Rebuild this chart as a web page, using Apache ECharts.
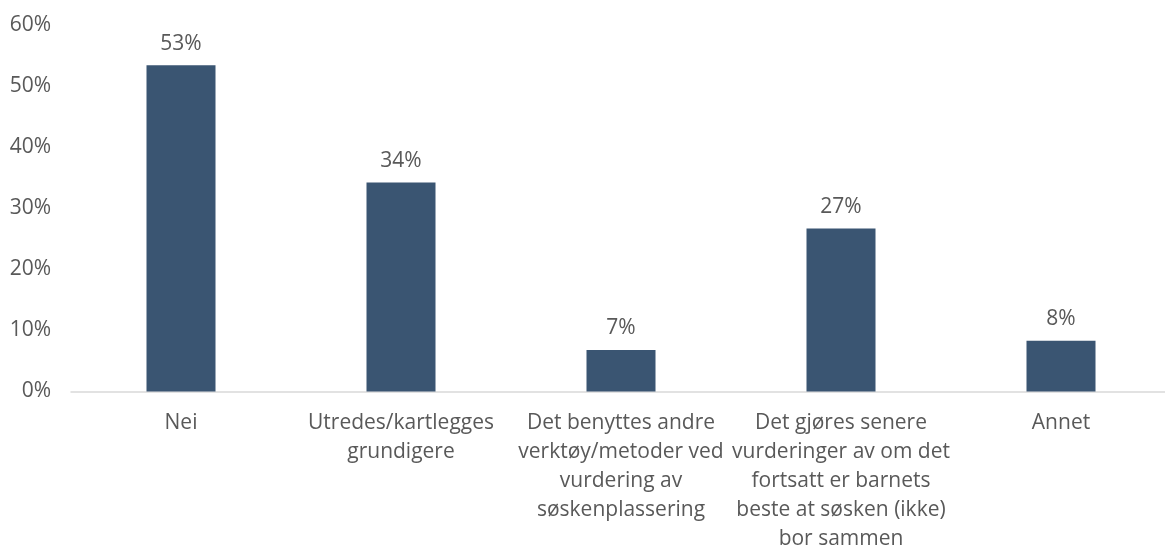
<!DOCTYPE html>
<html>
<head>
<meta charset="utf-8">
<script src="https://cdn.jsdelivr.net/npm/echarts@6/dist/echarts.min.js"></script>
<style>
  html, body { margin: 0; padding: 0; background: #fff; }
  #chart { width: 1165px; height: 550px; }
</style>
</head>
<body>
<div id="chart"></div>
<script>
const categories = [
  'Nei',
  'Utredes/kartlegges\ngrundigere',
  'Det benyttes andre\nverktøy/metoder ved\nvurdering av\nsøskenplassering',
  'Det gjøres senere\nvurderinger av om det\nfortsatt er barnets\nbeste at søsken (ikke)\nbor sammen',
  'Annet'
]
const values = [53.4, 34.2, 6.8, 26.7, 8.3]

const textColor = '#595959'
const font = '"Open Sans", sans-serif'

const myChart = echarts.init(document.getElementById('chart'))
myChart.setOption({
  animation: false,
  grid: { left: 71, right: -6, top: 25, bottom: 158.5, outerBoundsMode: 'none' },
  xAxis: {
    type: 'category',
    data: categories,
    axisLine: { lineStyle: { color: '#d9d9d9', width: 1.5 } },
    axisTick: { show: false },
    axisLabel: {
      color: textColor,
      fontFamily: font,
      fontSize: 21,
      lineHeight: 29,
      interval: 0,
      margin: 17,
      verticalAlign: 'top'
    }
  },
  yAxis: {
    type: 'value',
    min: 0,
    max: 60,
    interval: 10,
    splitLine: { show: false },
    axisLine: { show: false },
    axisTick: { show: false },
    axisLabel: {
      color: textColor,
      fontFamily: font,
      fontSize: 21,
      margin: 20,
      formatter: '{value}%'
    }
  },
  series: [
    {
      type: 'bar',
      data: values,
      barWidth: 69,
      itemStyle: { color: '#3a5572' },
      label: {
        show: true,
        position: 'top',
        distance: 11,
        color: textColor,
        fontFamily: font,
        fontSize: 21,
        formatter: p => Math.round(p.value) + '%'
      }
    }
  ]
})
</script>
</body>
</html>
